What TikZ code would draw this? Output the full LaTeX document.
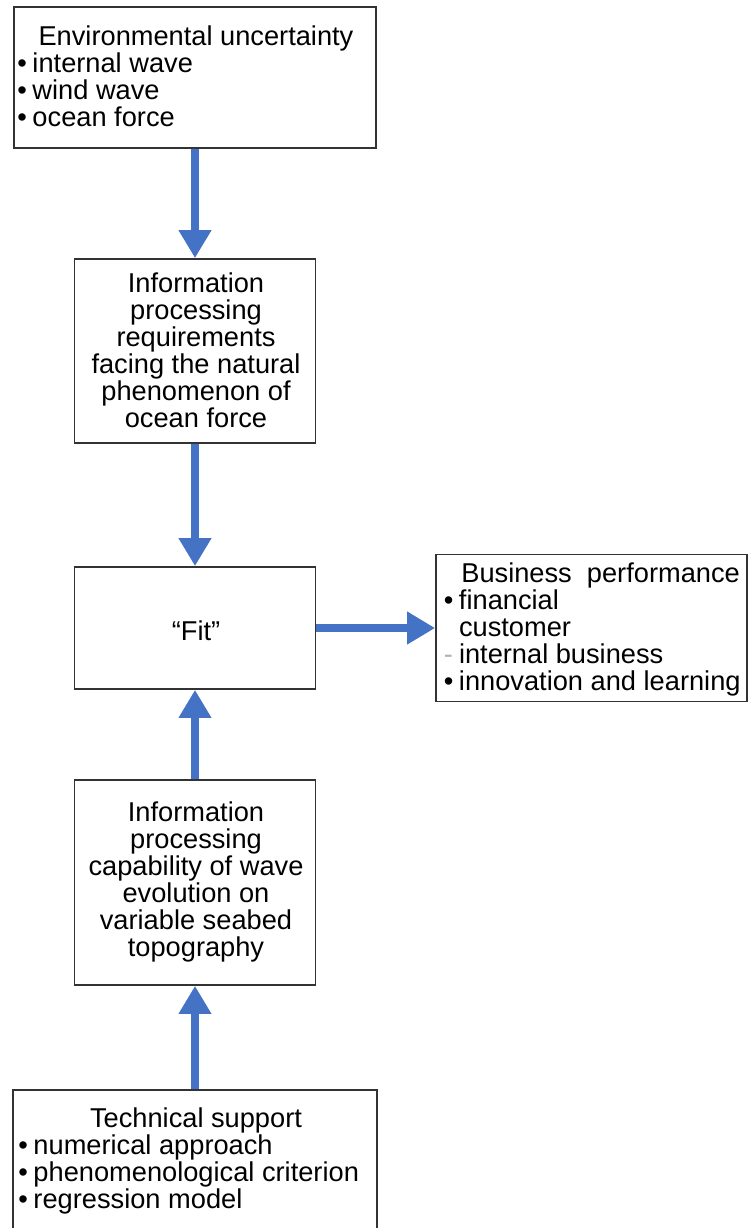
\documentclass[tikz,border=0pt]{standalone}
\usepackage{fontspec}
\setmainfont{Liberation Sans}
\usepackage{tikz}
\usetikzlibrary{arrows.meta}
\definecolor{flowblue}{RGB}{68,114,196}
\newcommand{\bul}{\textbullet\hspace{3.2pt}}
\newcommand{\nobul}{\phantom{\textbullet\hspace{3.2pt}}}

\tikzset{
  box/.style={draw=black!80, line width=1pt, fill=white, inner sep=0pt},
  flow/.style={draw=flowblue, line width=0.16cm, -{Triangle[length=0.56cm, width=0.62cm]}},
  txt/.style={inner sep=0pt, font=\fontsize{15.5}{15.4}\selectfont}
}

\begin{document}
\begin{tikzpicture}[x=0.02cm, y=-0.02cm]
\useasboundingbox (0,0) rectangle (749,1228);
\clip (0,0) rectangle (749,1228);
%\draw [help lines] (0,0) grid (749,1228);
% boxes
\node [box, minimum width=7.24cm, minimum height=2.82cm] (env) at (195,77.5) {};
\node [box, minimum width=4.82cm, minimum height=3.68cm] (req) at (195,351) {};
\node [box, minimum width=4.82cm, minimum height=2.44cm] (fit) at (195,628) {};
\node [box, minimum width=4.82cm, minimum height=4.10cm] (cap) at (195,882.5) {};
\node [box, minimum width=7.28cm, minimum height=3.4cm] (tech) at (195,1175) {};
\node [box, minimum width=6.22cm, minimum height=2.94cm] (biz) at (591.5,628) {};
% arrows
\draw [flow] (env) -- (req);
\draw [flow] (req) -- (fit);
\draw [flow] (cap) -- (fit);
\draw [flow] (tech) -- (cap);
\draw [flow] (fit) -- (biz);
% texts
\node [txt, anchor=base] (envhead) at (196,45) {Environmental uncertainty};
\node [txt, anchor=north west, align=left] (envlist) at (17,52)
  {\bul internal wave\\ \bul wind wave\\ \bul ocean force};
\node [txt, anchor=north, align=center] (reqtxt) at (196,272)
  {Information\\ processing\\ requirements\\ facing the natural\\ phenomenon of\\ ocean force};
\node [txt, anchor=base] (fittxt) at (196,640) {“Fit”};
\node [txt, anchor=north, align=center] (captxt) at (196,801)
  {Information\\ processing\\ capability of wave\\ evolution on\\ variable seabed\\ topography};
\node [txt, anchor=base west] (bizhead) at (461,582) {Business\ \ performance};
\node [txt, anchor=north west, align=left] (bizlist) at (443.5,589)
  {\bul financial\\ \nobul customer\\
   \makebox[0pt][l]{\textcolor{black!30}{-}}\nobul internal business\\
   \bul innovation and learning};
\node [txt, anchor=base] (techhead) at (196,1127) {Technical support};
\node [txt, anchor=north west, align=left] (techlist) at (18,1134)
  {\bul numerical approach\\ \bul phenomenological criterion\\ \bul regression model};
\end{tikzpicture}
\end{document}
